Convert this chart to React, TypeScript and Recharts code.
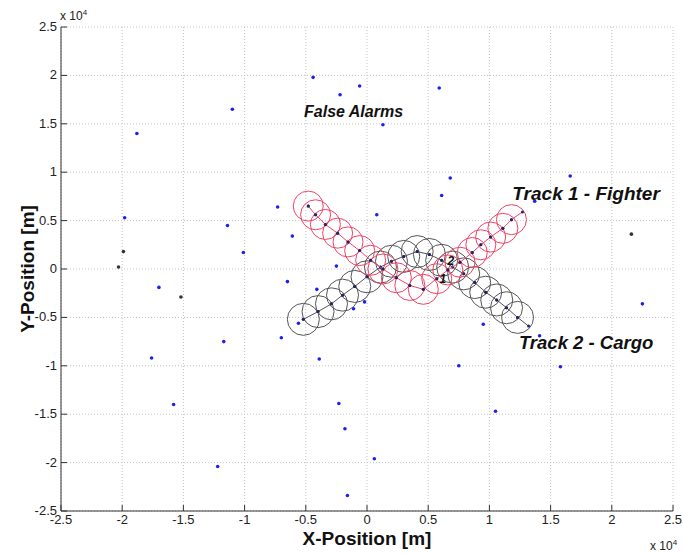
import React from 'react';
import { ScatterChart, Scatter, XAxis, YAxis, CartesianGrid, ReferenceDot } from 'recharts';

// all positions in units of 10^4 m
const ticks = [-2.5, -2, -1.5, -1, -0.5, 0, 0.5, 1, 1.5, 2, 2.5];

const alarmX = [-0.44, -0.22, -0.06, 0.59, -1.10, 0.13, -1.88, 0.68, 0.61, 1.66, 1.37, -0.73, 0.08, -1.98, -1.14, -1.01, -0.61, -0.25, -1.70, -0.65, -0.41, -0.11, -0.02, -0.56, -1.17, -0.70, -1.76, -0.39, -1.58, -0.23, -0.18, -1.22, 0.06, -0.16, 1.05, 0.75, 1.58, 0.95, 1.41, 2.25];
const alarmY = [1.98, 1.80, 1.89, 1.87, 1.65, 1.49, 1.40, 0.94, 0.76, 0.96, 0.70, 0.64, 0.56, 0.53, 0.45, 0.17, 0.34, 0.03, -0.19, -0.13, -0.21, -0.41, -0.34, -0.56, -0.75, -0.71, -0.92, -0.93, -1.40, -1.39, -1.65, -2.04, -1.96, -2.34, -1.47, -1.00, -1.01, -0.57, -0.69, -0.36];

const clutterX = [-1.99, -2.03, -1.52, 2.16];
const clutterY = [0.18, 0.02, -0.29, 0.36];

const fighterX = [-0.48, -0.42, -0.34, -0.24, -0.155, -0.06, 0.03, 0.13, 0.24, 0.35, 0.46, 0.57, 0.66, 0.76, 0.86, 0.93, 1.01, 1.11, 1.18, 1.27];
const fighterY = [0.65, 0.56, 0.46, 0.37, 0.28, 0.19, 0.09, 0.0, -0.09, -0.17, -0.21, -0.10, -0.01, 0.07, 0.17, 0.25, 0.33, 0.42, 0.51, 0.59];

const cargoX = [-0.52, -0.40, -0.29, -0.20, -0.10, 0.0, 0.11, 0.20, 0.30, 0.41, 0.51, 0.61, 0.70, 0.79, 0.88, 0.97, 1.06, 1.14, 1.23, 1.32];
const cargoY = [-0.52, -0.44, -0.36, -0.27, -0.18, -0.08, 0.02, 0.08, 0.13, 0.18, 0.15, 0.09, 0.02, -0.05, -0.14, -0.24, -0.32, -0.40, -0.50, -0.59];

const zip = (xs: number[], ys: number[]) => xs.map((x, i) => ({ x, y: ys[i] }));

const alarms = zip(alarmX, alarmY);
const clutter = zip(clutterX, clutterY);
const fighter = zip(fighterX, fighterY);
const cargo = zip(cargoX, cargoY);

const FONT = '"Liberation Sans", Arial, Helvetica, sans-serif';

const dot = (color: string, r: number) => (p: any) => (
  <circle cx={p.cx} cy={p.cy} r={r} fill={color} />
);

const gate = (color: string, r: number) => (p: any) => (
  <g>
    <circle cx={p.cx} cy={p.cy} r={r} fill="none" stroke={color} strokeWidth={1} />
    <circle cx={p.cx} cy={p.cy} r={1.5} fill="#222266" />
  </g>
);

const XTick = (p: any) => (
  <g>
    <line x1={p.x} y1={p.y - 4} x2={p.x} y2={p.y - 10} stroke="#333" />
    <text x={p.x} y={p.y} dy="0.71em" textAnchor="middle" fontSize={13} fill="#222" fontFamily={FONT}>
      {p.payload.value}
    </text>
  </g>
);

const YTick = (p: any) => (
  <g>
    <line x1={p.x + 4} y1={p.y} x2={p.x + 10} y2={p.y} stroke="#333" />
    <text x={p.x} y={p.y} dy="0.3em" textAnchor="end" fontSize={13} fill="#222" fontFamily={FONT}>
      {p.payload.value}
    </text>
  </g>
);

const note = (value: string, size: number) => ({
  value,
  position: 'center' as const,
  fontSize: size,
  fontWeight: 'bold',
  fontStyle: 'italic',
  fill: '#111',
  fontFamily: FONT,
});

export default function App() {
  return (
    <div style={{ position: 'absolute', left: 0, top: 0, width: 683, height: 554, background: '#fff', fontFamily: FONT }}>
      <ScatterChart width={683} height={554} margin={{ top: 27, right: 10, bottom: 13, left: 0 }}>
        <CartesianGrid stroke="#c4c4c4" strokeDasharray="1 2" />
        <XAxis
          type="number"
          dataKey="x"
          domain={[-2.5, 2.5]}
          ticks={ticks}
          height={30}
          tickSize={0}
          tickMargin={4}
          tick={XTick}
          stroke="#333"
          interval={0}
          label={{ value: 'X-Position [m]', position: 'insideBottom', offset: -4, fontSize: 19, fontWeight: 'bold', fill: '#111', fontFamily: FONT }}
        />
        <YAxis
          type="number"
          dataKey="y"
          domain={[-2.5, 2.5]}
          ticks={ticks}
          width={61}
          tickSize={0}
          tickMargin={4}
          tick={YTick}
          stroke="#333"
          interval={0}
          label={{ value: 'Y-Position [m]', angle: -90, position: 'insideLeft', offset: 27, fontSize: 19, fontWeight: 'bold', fill: '#111', fontFamily: FONT, style: { textAnchor: 'middle' } }}
        />
        <Scatter data={alarms} shape={dot('#2020ee', 1.8)} isAnimationActive={false} />
        <Scatter data={clutter} shape={dot('#333333', 1.8)} isAnimationActive={false} />
        <Scatter data={cargo.slice(0, -1)} shape={gate('#555555', 16)} isAnimationActive={false} />
        <Scatter data={cargo} line={{ stroke: '#555555', strokeWidth: 1 }} shape={dot('#222266', 1.5)} isAnimationActive={false} />
        <Scatter data={fighter.slice(0, -1)} shape={gate('#ee4466', 15)} isAnimationActive={false} />
        <Scatter data={fighter} line={{ stroke: '#ee4466', strokeWidth: 1 }} shape={dot('#222266', 1.5)} isAnimationActive={false} />
        <ReferenceDot x={-0.11} y={1.63} r={0} fill="none" stroke="none" label={note('False Alarms', 16)} />
        <ReferenceDot x={1.79} y={0.785} r={0} fill="none" stroke="none" label={note('Track 1 - Fighter', 19)} />
        <ReferenceDot x={1.79} y={-0.76} r={0} fill="none" stroke="none" label={note('Track 2 - Cargo', 18.5)} />
        <ReferenceDot x={0.685} y={0.09} r={0} fill="none" stroke="none" label={note('2', 12)} />
        <ReferenceDot x={0.62} y={-0.1} r={0} fill="none" stroke="none" label={note('1', 12)} />
      </ScatterChart>
      <div style={{ position: 'absolute', left: 60, top: 8, fontSize: 12, color: '#222' }}>
        x 10<sup style={{ fontSize: 8 }}>4</sup>
      </div>
      <div style={{ position: 'absolute', left: 650, top: 538, fontSize: 12, color: '#222' }}>
        x 10<sup style={{ fontSize: 8 }}>4</sup>
      </div>
    </div>
  );
}
